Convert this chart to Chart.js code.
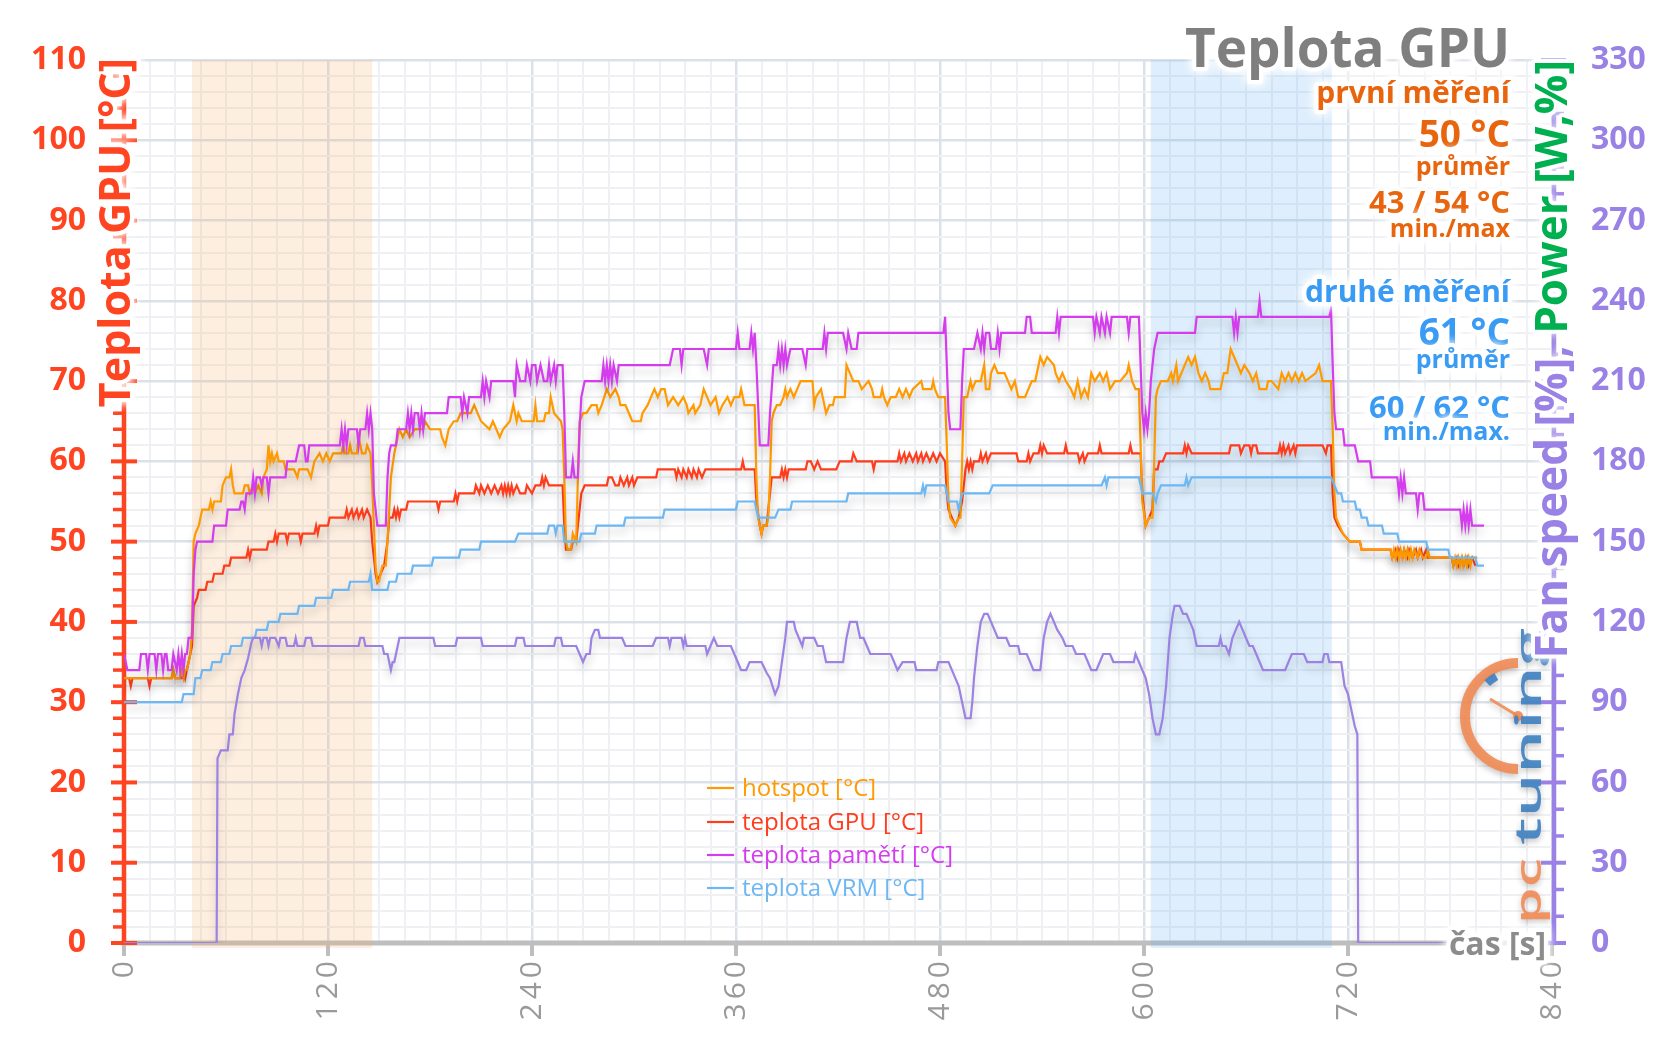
<!DOCTYPE html>
<html><head><meta charset="utf-8">
<script src="https://cdn.jsdelivr.net/npm/chart.js@4.4.1/dist/chart.umd.min.js"></script>
<style>html,body{margin:0;padding:0;background:#fff;overflow:hidden}canvas{display:block}</style>
</head><body>
<canvas id="c" width="1656" height="1043"></canvas>
<script>
// ---------------- DATA ----------------
const seriesNames = ['hotspot [°C]', 'teplota GPU [°C]', 'teplota pamětí [°C]', 'teplota VRM [°C]'];
const xTickLabels = [0, 120, 240, 360, 480, 600, 720, 840];
const yLeftTicks = [0, 10, 20, 30, 40, 50, 60, 70, 80, 90, 100, 110];
const yRightTicks = [0, 30, 60, 90, 120, 150, 180, 210, 240, 270, 300, 330];
const bands = [[40, 146], [604, 710.5]];
const headline = 'Teplota GPU';
const firstBlock = ['první měření', '50 °C', 'průměr', '43 / 54 °C', 'min./max'];
const secondBlock = ['druhé měření', '61 °C', 'průměr', '60 / 62 °C', 'min./max.'];

// [time s, °C]
const hotspot = [[0,33],[28,33],[29,34],[30,33],[33,33],[34,34],[35,33],[36,34],[37,34],[38,35],[39,36],[40,39],[41,50],[42,51],[44,52],[45,53],[46,54],[50,54],[51,55],[52,54],[53,55],[57,55],[58,57],[60,58],[62,58],[63,59],[64,57],[65,56],[70,56],[71,57],[73,57],[74,56],[76,57],[77,56],[79,57],[81,56],[82,58],[84,59],[85,62],[86,60],[87,61],[88,60],[90,61],[91,60],[94,60],[95,59],[100,59],[102,58],[103,59],[108,59],[110,58],[112,60],[115,61],[117,60],[119,61],[121,60],[123,61],[128,61],[129,62],[130,61],[132,61],[133,62],[134,61],[137,61],[138,63],[139,62],[140,61],[142,61],[143,62],[145,61],[146,57],[148,47],[149,45],[150,45],[151,46],[152,47],[154,47],[155,50],[156,54],[157,58],[159,61],[161,63],[162,64],[164,63],[166,64],[168,63],[171,64],[176,64],[177,65],[180,64],[186,64],[187,63],[189,62],[191,64],[194,65],[196,65],[198,66],[204,66],[206,67],[208,66],[210,65],[215,64],[217,65],[219,64],[221,63],[223,64],[227,65],[229,67],[231,65],[232,66],[234,65],[241,65],[242,67],[243,65],[247,65],[248,66],[250,66],[251,68],[253,66],[257,65],[258,64],[259,58],[260,50],[261,49],[263,49],[264,51],[266,50],[267,58],[268,65],[270,66],[272,66],[275,67],[278,67],[279,66],[281,67],[284,69],[286,68],[289,69],[291,68],[292,67],[295,67],[297,66],[299,65],[304,65],[305,66],[308,67],[310,68],[312,69],[314,68],[316,69],[318,69],[320,67],[323,68],[326,67],[329,68],[331,67],[332,66],[335,67],[336,66],[339,67],[341,69],[343,68],[345,67],[348,68],[350,66],[352,67],[355,68],[357,67],[359,68],[362,68],[363,69],[365,67],[371,67],[372,58],[373,53],[374,52],[375,51],[376,52],[378,52],[379,53],[380,58],[381,65],[382,66],[384,67],[386,67],[388,68],[389,69],[390,68],[392,69],[394,68],[396,69],[398,70],[405,70],[406,67],[407,68],[410,69],[411,68],[413,66],[415,67],[417,67],[418,68],[424,68],[425,72],[427,71],[429,70],[432,70],[434,69],[438,70],[440,69],[441,68],[445,68],[446,69],[447,68],[449,67],[451,68],[454,68],[456,69],[458,68],[460,69],[462,68],[464,69],[469,70],[470,69],[475,69],[476,70],[477,69],[479,68],[483,68],[484,62],[485,55],[486,53],[489,52],[491,53],[492,53],[493,60],[494,68],[496,68],[497,69],[498,70],[499,69],[501,70],[504,70],[506,72],[507,69],[509,69],[510,71],[512,72],[514,71],[518,71],[520,70],[522,69],[524,70],[526,68],[530,68],[532,69],[534,70],[536,70],[538,72],[539,73],[541,72],[543,73],[547,72],[548,71],[550,70],[552,71],[554,70],[557,69],[559,68],[561,70],[563,68],[565,69],[567,68],[569,71],[571,70],[574,71],[576,70],[578,71],[580,69],[583,70],[586,70],[590,71],[591,72],[593,70],[595,69],[597,69],[598,62],[599,55],[601,52],[603,53],[605,53],[606,60],[607,68],[608,69],[610,70],[614,70],[616,71],[617,70],[619,72],[620,70],[622,71],[624,72],[626,73],[628,72],[630,73],[632,71],[634,70],[636,71],[638,70],[639,69],[645,69],[647,71],[649,71],[651,74],[653,73],[655,72],[657,71],[659,72],[662,71],[664,70],[666,71],[668,69],[672,69],[673,70],[675,70],[679,69],[681,71],[683,70],[685,71],[687,70],[689,71],[691,70],[693,71],[695,70],[701,71],[703,72],[705,70],[710,70],[711,64],[712,56],[713,53],[715,52],[717,51],[721,50],[727,50],[728,49],[745,49],[746,48],[747,49],[748,48],[749,49],[750,48],[751,49],[752,48],[753,49],[754,48],[755,49],[756,48],[757,49],[758,48],[759,49],[761,48],[762,49],[764,48],[766,48],[767,49],[768,48],[781,48],[782,47],[783,48],[784,47],[785,48],[786,47],[787,48],[788,47],[789,48],[790,47],[791,48],[792,47],[793,48],[796,48]];

const gpuTemp = [[0,33],[3,33],[4,32],[5,33],[14,33],[15,32],[16,33],[28,33],[29,34],[30,33],[34,33],[35,34],[36,33],[37,34],[38,35],[40,37],[41,42],[43,43],[44,44],[48,44],[49,45],[52,45],[53,46],[58,46],[59,47],[62,47],[63,48],[72,48],[73,49],[74,48],[75,49],[84,49],[85,50],[88,50],[89,51],[90,50],[91,51],[95,51],[96,50],[97,51],[103,51],[104,50],[105,51],[112,51],[113,52],[114,51],[115,52],[120,52],[121,53],[130,53],[131,54],[132,53],[134,54],[135,53],[137,54],[138,53],[140,54],[141,53],[143,54],[145,53],[146,50],[148,46],[149,45],[151,46],[153,47],[155,50],[156,53],[158,53],[159,54],[160,53],[161,54],[162,53],[163,54],[166,54],[167,55],[184,55],[185,54],[186,55],[194,55],[195,56],[196,55],[197,56],[206,56],[207,57],[209,56],[210,57],[212,56],[214,57],[216,56],[218,57],[220,56],[222,57],[223,56],[224,57],[225,56],[226,57],[227,56],[228,57],[229,56],[231,57],[233,56],[236,56],[237,57],[240,56],[242,57],[245,57],[246,58],[247,57],[248,58],[250,57],[258,57],[259,52],[260,49],[263,49],[264,50],[266,50],[267,52],[269,56],[271,57],[284,57],[285,58],[287,58],[289,57],[291,57],[292,58],[294,57],[296,58],[297,57],[299,58],[300,57],[302,58],[313,58],[314,59],[324,59],[325,58],[326,59],[328,58],[329,59],[331,58],[332,59],[334,58],[335,59],[337,58],[338,59],[340,58],[342,59],[363,59],[364,60],[365,59],[371,59],[372,55],[374,52],[375,51],[376,52],[378,52],[379,54],[381,58],[386,58],[387,59],[388,58],[389,59],[390,58],[391,59],[401,59],[402,60],[404,60],[406,59],[408,60],[410,59],[419,59],[421,60],[428,60],[429,61],[431,60],[440,60],[441,59],[442,60],[455,60],[456,61],[457,60],[459,61],[460,60],[462,61],[464,60],[466,61],[467,60],[469,61],[470,60],[472,61],[474,60],[476,61],[478,60],[480,61],[483,60],[484,56],[485,54],[487,53],[489,52],[491,53],[493,55],[495,59],[496,60],[497,59],[498,60],[499,59],[500,60],[503,60],[504,61],[505,60],[507,61],[508,60],[510,61],[525,61],[526,60],[531,60],[532,61],[533,60],[535,61],[538,61],[539,62],[540,61],[541,62],[543,61],[553,61],[554,62],[555,61],[561,61],[562,60],[564,61],[565,60],[567,61],[573,61],[574,62],[575,61],[591,61],[592,62],[593,61],[598,61],[599,56],[601,52],[603,53],[605,54],[606,59],[608,59],[609,60],[611,60],[613,61],[623,61],[624,62],[625,61],[626,62],[628,61],[650,61],[651,62],[656,62],[657,61],[659,62],[662,62],[663,61],[664,62],[666,62],[667,61],[679,61],[680,62],[681,61],[682,62],[683,61],[685,62],[686,61],[688,62],[689,61],[690,62],[705,62],[707,61],[708,62],[710,62],[711,56],[712,53],[714,52],[717,51],[721,50],[727,50],[728,49],[745,49],[746,48],[748,49],[749,48],[750,49],[752,48],[753,49],[755,48],[756,49],[758,48],[760,49],[761,48],[763,49],[764,48],[766,49],[767,48],[781,48],[782,47],[784,48],[785,47],[787,48],[788,47],[790,48],[791,47],[793,48],[795,47]];

const memTemp = [[0,36],[2,34],[9,34],[10,36],[13,36],[14,34],[15,36],[18,36],[19,34],[20,36],[22,36],[23,34],[24,36],[25,36],[26,34],[28,34],[29,36],[31,34],[32,36],[33,34],[34,36],[35,34],[36,36],[37,36],[38,38],[40,38],[41,46],[42,49],[43,50],[52,50],[53,52],[60,52],[61,54],[68,54],[69,55],[70,55],[71,54],[72,56],[75,56],[76,58],[77,56],[78,58],[80,58],[81,57],[82,58],[84,58],[85,56],[86,58],[95,58],[96,60],[101,60],[103,62],[106,62],[107,60],[108,60],[109,62],[127,62],[128,64],[129,62],[130,64],[131,62],[132,64],[137,64],[138,62],[139,64],[142,64],[143,66],[144,64],[145,66],[146,64],[147,56],[148,54],[149,52],[154,52],[155,58],[156,61],[157,62],[160,62],[161,64],[166,64],[167,66],[168,64],[169,66],[170,64],[171,66],[173,66],[174,64],[175,66],[176,64],[177,66],[190,66],[191,68],[198,68],[199,66],[200,68],[202,66],[203,68],[210,68],[211,70],[212,68],[213,70],[215,68],[216,70],[229,70],[230,68],[231,72],[233,70],[236,70],[237,72],[239,70],[240,72],[242,72],[243,70],[245,72],[247,70],[249,70],[250,72],[251,70],[253,72],[254,70],[255,72],[258,72],[259,66],[260,58],[263,58],[264,60],[265,58],[267,58],[268,64],[269,68],[270,69],[271,70],[281,70],[282,72],[283,70],[284,72],[285,70],[286,72],[287,70],[288,72],[290,70],[291,72],[321,72],[323,74],[327,74],[328,72],[329,74],[341,74],[343,72],[344,74],[360,74],[361,76],[362,74],[368,74],[369,76],[370,74],[371,76],[372,72],[374,62],[379,62],[380,66],[382,72],[384,72],[385,74],[386,72],[387,74],[388,72],[389,74],[390,72],[392,74],[399,74],[401,72],[402,74],[411,74],[412,76],[413,74],[414,76],[423,76],[425,74],[426,76],[428,74],[431,74],[432,76],[482,76],[483,78],[484,72],[485,66],[486,64],[492,64],[493,70],[494,74],[500,74],[502,76],[504,74],[505,76],[506,74],[507,76],[509,76],[510,74],[513,74],[514,76],[515,74],[516,76],[530,76],[531,78],[533,78],[534,76],[548,76],[549,78],[550,76],[551,78],[570,78],[571,76],[572,78],[574,76],[575,78],[577,76],[578,78],[580,76],[581,78],[590,78],[591,76],[592,78],[597,78],[599,66],[600,64],[601,66],[602,64],[603,66],[604,70],[606,74],[608,76],[630,76],[631,78],[652,78],[653,76],[654,78],[655,76],[656,78],[667,78],[668,80],[669,78],[709,78],[710,79],[711,72],[712,66],[713,64],[717,64],[718,62],[724,62],[725,61],[726,60],[733,60],[734,58],[749,58],[750,56],[751,58],[752,56],[753,58],[754,56],[760,56],[761,54],[762,56],[764,56],[765,54],[786,54],[787,52],[788,54],[789,52],[790,54],[791,52],[792,54],[793,52],[800,52]];

const vrmTemp = [[0,30],[34,30],[35,31],[41,31],[42,33],[45,33],[46,34],[51,34],[52,35],[57,35],[58,36],[62,36],[63,37],[69,37],[70,38],[77,38],[78,39],[84,39],[85,40],[91,40],[92,41],[102,41],[103,42],[112,42],[113,43],[122,43],[123,44],[132,44],[133,45],[144,45],[145,46],[146,44],[155,44],[156,45],[160,45],[161,46],[169,46],[170,47],[181,47],[182,48],[197,48],[198,49],[209,49],[210,50],[230,50],[232,51],[249,51],[250,52],[253,52],[254,51],[255,52],[258,52],[259,50],[268,50],[269,51],[277,51],[278,52],[294,52],[295,53],[317,53],[318,54],[360,54],[361,55],[371,55],[373,53],[383,53],[385,54],[392,54],[393,55],[425,55],[426,56],[469,56],[470,57],[471,56],[472,57],[483,57],[485,55],[490,55],[491,54],[493,56],[509,56],[511,57],[575,57],[577,58],[578,57],[579,58],[597,58],[599,56],[605,56],[607,55],[608,56],[610,57],[624,57],[625,58],[626,57],[628,58],[710,58],[712,57],[714,56],[716,56],[717,55],[724,55],[725,54],[727,54],[728,53],[731,53],[732,52],[740,52],[741,51],[749,51],[750,50],[766,50],[767,49],[779,49],[780,48],[795,48],[796,47],[800,47]];

// [time s, right-axis value]
const fanSpeed = [[0,0],[54.5,0],[55,69],[57,72],[61,72],[62,78],[64,78],[65,85.5],[67,93],[69,99],[71,102],[73,106.5],[75,112.5],[76,114],[80,114],[81,111],[82,114],[84,114],[85,111],[86,114],[89,114],[91,111],[92,114],[95,114],[96,111],[100,111],[101,114],[102,111],[106,111],[107,114],[110,114],[111,111],[138,111],[139,114],[141,114],[142,111],[152,111],[153,108],[155,108],[157,102],[158,105],[159,105],[161,111],[162,114],[182,114],[183,111],[195,111],[196,114],[210,114],[211,111],[230,111],[231,114],[235,114],[236,111],[253,111],[254,114],[257,114],[258,111],[266,111],[268,108],[270,105],[272,108],[274,108],[275,114],[277,117],[279,117],[280,114],[293,114],[295,111],[311,111],[313,114],[320,114],[321,111],[322,114],[328,114],[329,111],[330,114],[331,111],[342,111],[343,108],[345,111],[347,114],[349,111],[357,111],[359,108],[361,105],[363,102],[366,102],[368,105],[375,105],[378,101],[380,99],[382,95],[383,93],[385,96],[387,105],[389,114],[390,120],[394,120],[395,117],[397,114],[399,111],[400,114],[406,114],[408,111],[411,111],[413,105],[423,105],[425,114],[427,120],[431,120],[433,114],[435,114],[437,111],[439,108],[451,108],[453,105],[455,102],[458,105],[465,105],[466,102],[478,102],[479,105],[485,105],[487,102],[489,99],[491,96],[493,90],[495,84],[498,84],[499,90],[500,99],[502,111],[504,120],[506,123],[508,123],[510,120],[512,117],[514,114],[519,114],[521,111],[526,111],[527,108],[531,108],[533,105],[535,102],[539,102],[541,114],[543,120],[545,123],[547,120],[549,117],[552,114],[554,111],[558,111],[560,108],[565,108],[567,105],[569,102],[572,102],[574,105],[576,108],[580,108],[582,105],[594,105],[595,108],[597,105],[599,102],[601,99],[603,93],[605,84],[607,78],[609,78],[611,84],[613,96],[615,114],[617,123],[618,126],[621,126],[623,123],[625,123],[627,120],[629,117],[631,111],[644,111],[645,114],[646,111],[648,111],[650,108],[652,114],[654,117],[656,120],[658,117],[660,114],[662,111],[664,111],[666,108],[668,105],[670,102],[683,102],[685,105],[687,108],[694,108],[696,105],[705,105],[706,108],[708,108],[709,105],[716,105],[718,96],[720,93],[722,87],[724,81],[725.5,78],[726,0],[800,0]];

// ---------------- STYLE ----------------
const COL = {
  hot: '#FF9A00', gpu: '#FF3C1C', mem: '#D43CEE', vrm: '#6DB7F2', fan: '#9B82E3',
  left: '#FF4422', right: '#9A81E6', green: '#00B050', grey: '#8C8C8C',
  first: '#E8650E', second: '#3A9BF4', title: '#7F7F7F'
};
const FONT = '"Open Sans", "Noto Sans", sans-serif';
Chart.defaults.font.family = FONT;

const pts = a => a.map(p => ({x: p[0], y: p[1]}));
const mk = (label, data, color, axis) => ({label, data: pts(data), borderColor: color, backgroundColor: color,
  yAxisID: axis, borderWidth: 2.2, pointRadius: 0, tension: 0, fill: false});

function glowText(ctx, text, x, y, font, color, align, rot) {
  ctx.save();
  ctx.translate(x, y); if (rot) ctx.rotate(rot);
  ctx.font = font; ctx.textAlign = align || 'right'; ctx.textBaseline = 'alphabetic';
  ctx.shadowColor = '#fff'; ctx.shadowBlur = 10;
  ctx.strokeStyle = 'rgba(255,255,255,0.95)'; ctx.lineWidth = 8; ctx.lineJoin = 'round';
  ctx.strokeText(text, 0, 0); ctx.strokeText(text, 0, 0);
  ctx.shadowBlur = 0; ctx.shadowColor = 'transparent';
  ctx.fillStyle = color; ctx.fillText(text, 0, 0);
  ctx.restore();
}

function drawLogo(ctx) {
  ctx.save();
  ctx.globalAlpha = 0.9;
  ctx.shadowColor = 'rgba(0,0,0,0.25)'; ctx.shadowBlur = 6; ctx.shadowOffsetY = 3;
  const cx = 1518, cy = 716;
  ctx.strokeStyle = '#F28B55'; ctx.lineWidth = 10;
  ctx.beginPath(); ctx.arc(cx, cy, 53, Math.PI / 2, Math.PI * 1.5); ctx.stroke();
  ctx.strokeStyle = '#3E7FC1'; ctx.lineWidth = 8;
  ctx.beginPath(); ctx.arc(cx, cy, 45, Math.PI * 1.26, Math.PI * 1.34); ctx.stroke();
  ctx.strokeStyle = '#F28B55'; ctx.lineWidth = 3;
  ctx.beginPath(); ctx.moveTo(cx, cy); ctx.lineTo(cx - 28, cy - 17); ctx.stroke();
  ctx.fillStyle = '#F28B55'; ctx.beginPath(); ctx.arc(cx, cy, 5, 0, Math.PI * 2); ctx.fill();
  ctx.translate(1541, 924); ctx.rotate(-Math.PI / 2);
  ctx.font = '600 36px ' + FONT; ctx.textAlign = 'left'; ctx.textBaseline = 'alphabetic';
  const wpc = ctx.measureText('pc').width;
  ctx.save(); ctx.scale(66 / wpc, 1); ctx.fillStyle = '#F28B55'; ctx.fillText('pc', 0, 0); ctx.restore();
  const wt = ctx.measureText('tuning').width;
  ctx.save(); ctx.translate(79, 0); ctx.scale(217 / wt, 1); ctx.fillStyle = '#3E7FC1'; ctx.fillText('tuning', 0, 0); ctx.restore();
  ctx.restore();
}

const decor = {
  id: 'decor',
  beforeDatasetsDraw(chart) {
    const {ctx, chartArea: a, scales: {x, y, y2}} = chart;
    const y0 = y.getPixelForValue(0);
    ctx.save();
    // x axis
    ctx.strokeStyle = '#BEBEBE'; ctx.lineWidth = 5;
    ctx.beginPath(); ctx.moveTo(a.left - 3, y0); ctx.lineTo(a.right + 4, y0); ctx.stroke();
    ctx.lineWidth = 4;
    xTickLabels.forEach(v => { const px = x.getPixelForValue(v);
      ctx.beginPath(); ctx.moveTo(px, y0); ctx.lineTo(px, y0 + 13); ctx.stroke(); });
    // highlighted windows
    ctx.fillStyle = 'rgba(245,170,100,0.2)';
    let b = bands[0];
    ctx.fillRect(x.getPixelForValue(b[0]), a.top, x.getPixelForValue(b[1]) - x.getPixelForValue(b[0]), y0 + 5 - a.top);
    ctx.fillStyle = 'rgba(90,170,240,0.2)';
    b = bands[1];
    ctx.fillRect(x.getPixelForValue(b[0]), a.top, x.getPixelForValue(b[1]) - x.getPixelForValue(b[0]), y0 + 5 - a.top);
    drawLogo(ctx);
    // left axis
    const lx = a.left;
    ctx.strokeStyle = COL.left; ctx.lineWidth = 4.5;
    ctx.beginPath(); ctx.moveTo(lx, y.getPixelForValue(110) - 2); ctx.lineTo(lx, y0 + 2); ctx.stroke();
    for (let v = 0; v <= 110; v += 2) {
      const py = y.getPixelForValue(v);
      ctx.beginPath();
      if (v % 10 === 0) { ctx.lineWidth = 4; ctx.moveTo(lx - 13, py); ctx.lineTo(lx + 13, py); }
      else { ctx.lineWidth = 3.5; ctx.moveTo(lx - 11, py); ctx.lineTo(lx, py); }
      ctx.stroke();
    }
    // right axis
    const rx = a.right + 2;
    ctx.strokeStyle = COL.right; ctx.lineWidth = 4.5;
    ctx.beginPath(); ctx.moveTo(rx, y2.getPixelForValue(330) - 2); ctx.lineTo(rx, y0 + 2); ctx.stroke();
    for (let v = 0; v <= 330; v += 10) {
      const py = y2.getPixelForValue(v);
      ctx.beginPath();
      if (v % 30 === 0) { ctx.lineWidth = 4; ctx.moveTo(rx - 13, py); ctx.lineTo(rx + 12, py); }
      else { ctx.lineWidth = 3.5; ctx.moveTo(rx, py); ctx.lineTo(rx + 10, py); }
      ctx.stroke();
    }
    ctx.restore();
  },
  beforeDatasetDraw(chart) {
    const ctx = chart.ctx; ctx.save();
    ctx.shadowColor = 'rgba(0,0,0,0.22)'; ctx.shadowBlur = 9; ctx.shadowOffsetY = 6;
  },
  afterDatasetDraw(chart) { chart.ctx.restore(); },
  afterDraw(chart) {
    const {ctx, scales: {x, y}} = chart;
    const y0 = y.getPixelForValue(0);
    // x tick labels
    ctx.save();
    ctx.font = '30px ' + FONT; ctx.fillStyle = '#9A9A9A';
    try { ctx.letterSpacing = '4px'; } catch (e) {}
    xTickLabels.forEach(v => {
      ctx.save(); ctx.translate(x.getPixelForValue(v), y0 + 14); ctx.rotate(-Math.PI / 2);
      ctx.textAlign = 'right'; ctx.textBaseline = 'middle'; ctx.fillText(String(v), 0, 0); ctx.restore();
    });
    ctx.restore();
    // legend
    const lcol = [COL.hot, COL.gpu, COL.mem, COL.vrm];
    const rows = [788, 822, 855, 888];
    ctx.save();
    ctx.font = '24px ' + FONT; ctx.textAlign = 'left'; ctx.textBaseline = 'middle';
    seriesNames.forEach((n, i) => {
      ctx.strokeStyle = lcol[i]; ctx.lineWidth = 2.2;
      ctx.beginPath(); ctx.moveTo(707, rows[i]); ctx.lineTo(734, rows[i]); ctx.stroke();
      ctx.fillStyle = lcol[i]; ctx.fillText(n, 742, rows[i] + 1);
    });
    ctx.restore();
    // left axis title
    glowText(ctx, 'Teplota GPU [°C]', 130, 58, 'bold 43px ' + FONT, COL.left, 'right', -Math.PI / 2);
    // right axis title (two colours)
    ctx.save(); ctx.font = 'bold 44px ' + FONT;
    const wPow = ctx.measureText('Power [W,%]').width; ctx.restore();
    ctx.save(); ctx.translate(1567, 60); ctx.rotate(-Math.PI / 2);
    ctx.font = 'bold 44px ' + FONT; ctx.textAlign = 'right'; ctx.textBaseline = 'alphabetic';
    ctx.shadowColor = '#fff'; ctx.shadowBlur = 10; ctx.strokeStyle = 'rgba(255,255,255,0.95)'; ctx.lineWidth = 8; ctx.lineJoin = 'round';
    ctx.strokeText('Power [W,%]', 0, 0); ctx.strokeText('Fan speed [%], ', -wPow, 0);
    ctx.shadowBlur = 0; ctx.shadowColor = 'transparent';
    ctx.fillStyle = COL.green; ctx.fillText('Power [W,%]', 0, 0);
    ctx.fillStyle = COL.right; ctx.fillText('Fan speed [%], ', -wPow, 0);
    ctx.restore();
    // headline block
    const R = 1510;
    glowText(ctx, headline, R, 67, 'bold 53px ' + FONT, COL.title);
    const fonts = ['bold 30px ', 'bold 37px ', 'bold 25px ', 'bold 31px ', 'bold 25px '];
    const b1 = [103, 147, 175, 213, 237];
    const b2 = [302, 345, 368, 418, 440];
    firstBlock.forEach((t, i) => glowText(ctx, t, R, b1[i], fonts[i] + FONT, COL.first));
    secondBlock.forEach((t, i) => glowText(ctx, t, R, b2[i], fonts[i] + FONT, COL.second));
    // x axis title
    glowText(ctx, 'čas [s]', 1546, 955, 'bold 32px ' + FONT, COL.grey);
  }
};

const chart = new Chart(document.getElementById('c'), {
  type: 'line',
  data: { datasets: [
    mk('Fan speed [%]', fanSpeed, COL.fan, 'y2'),
    mk(seriesNames[3], vrmTemp, COL.vrm, 'y'),
    mk(seriesNames[2], memTemp, COL.mem, 'y'),
    mk(seriesNames[0], hotspot, COL.hot, 'y'),
    mk(seriesNames[1], gpuTemp, COL.gpu, 'y')
  ]},
  options: {
    responsive: false, animation: false, devicePixelRatio: 1,
    layout: { padding: { top: 60, left: 0, right: 0, bottom: 0 } },
    plugins: { legend: { display: false }, tooltip: { enabled: false } },
    scales: {
      x: {
        type: 'linear', min: 0, max: 840,
        ticks: { display: false, stepSize: 15, autoSkip: false, maxTicksLimit: 1000 },
        grid: { drawTicks: false,
          color: c => (c.tick && c.tick.value % 120 === 0) ? '#DCE1E9' : '#EEF0F4',
          lineWidth: c => (c.tick && c.tick.value % 120 === 0) ? 2.5 : 2 },
        border: { display: false },
        afterFit: s => { s.height = 100; }
      },
      y: {
        position: 'left', min: 0, max: 110,
        ticks: { stepSize: 2, autoSkip: false, maxTicksLimit: 1000, padding: 38, color: COL.left,
          font: { size: 32, weight: 'bold', family: FONT },
          callback: v => yLeftTicks.includes(v) ? String(v) : '' },
        grid: { drawTicks: false,
          color: c => (c.tick && c.tick.value % 10 === 0) ? '#DCE1E9' : '#EEF0F4',
          lineWidth: c => (c.tick && c.tick.value % 10 === 0) ? 2.5 : 2 },
        border: { display: false },
        afterFit: s => { s.width = 124; }
      },
      y2: {
        position: 'right', min: 0, max: 330,
        ticks: { stepSize: 30, autoSkip: false, padding: 39, color: COL.right,
          font: { size: 32, weight: 'bold', family: FONT },
          callback: v => yRightTicks.includes(v) ? String(v) : '' },
        grid: { display: false, drawTicks: false },
        border: { display: false },
        afterFit: s => { s.width = 104; }
      }
    }
  },
  plugins: [decor]
});
</script>
</body></html>
